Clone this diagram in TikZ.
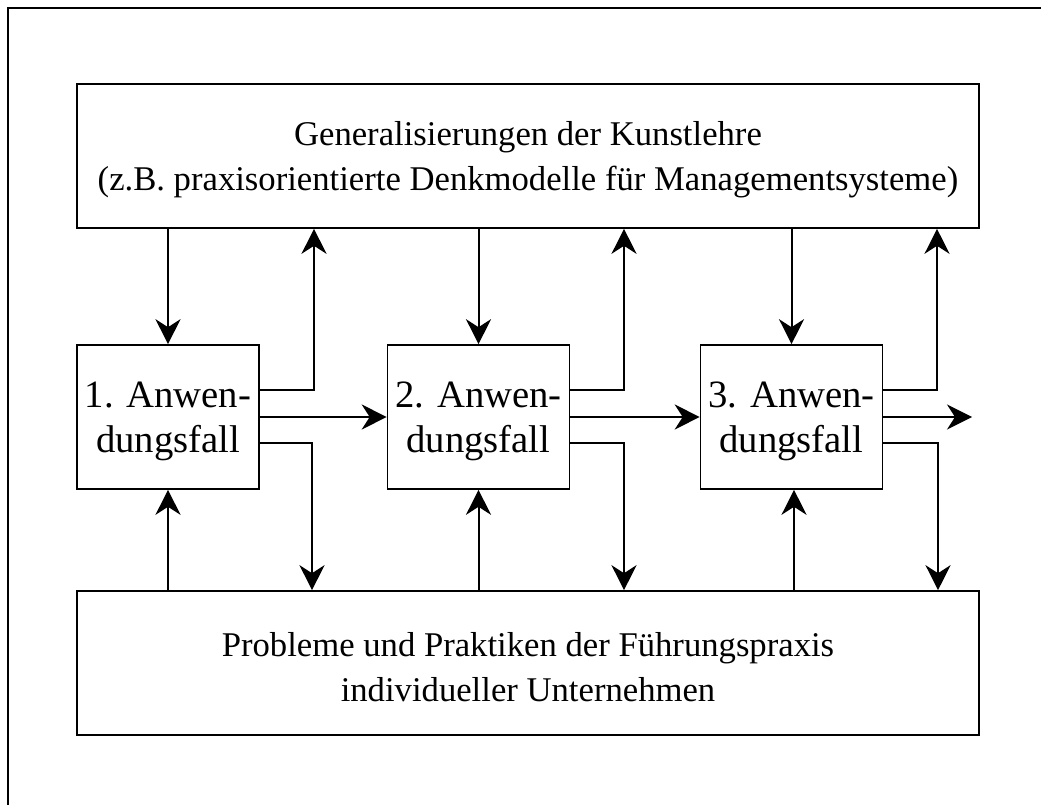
\documentclass[tikz,border=0pt]{standalone}
\usepackage{fontspec}
\setmainfont{Liberation Serif}
\usetikzlibrary{arrows.meta}
\begin{document}
\begin{tikzpicture}[x=0.75pt,y=-0.75pt,
  box/.style={draw,line width=1.2pt,inner sep=0pt},
  bigbox/.style={box,minimum width=676.5pt,minimum height=108pt},
  smallbox/.style={box,minimum width=136.5pt,minimum height=108pt},
  bigtext/.style={align=center,inner sep=0pt,font=\fontsize{26}{33.75}\selectfont},
  smalltext/.style={align=center,inner sep=0pt,font=\fontsize{29}{33.75}\selectfont},
  conn/.style={line width=1.5pt},
  arr/.style={conn,-{Stealth[length=18.75pt,width=18.75pt,inset=6pt]}}]
\useasboundingbox (0,0) rectangle (1041,805);
\draw[line width=1.2pt] (8,830) -- (8,8) -- (1070,8);

\node[bigbox] (top) at (528,156) {};
\node[bigtext] (toptext) at ([yshift=-3pt]top.center) {Generalisierungen der Kunstlehre\\(z.B. praxisorientierte Denkmodelle für Managementsysteme)};
\node[bigbox] (bot) at (528,663) {};
\node[bigtext] (bottext) at ([yshift=-3pt]bot.center) {Probleme und Praktiken der Führungspraxis\\individueller Unternehmen};
\node[smallbox] (b1) at (168,417) {};
\node[smalltext] (b1text) at ([yshift=-3pt]b1.center) {1. Anwen-\\dungsfall};
\node[smallbox] (b2) at (478.5,417) {};
\node[smalltext] (b2text) at ([yshift=-3pt]b2.center) {2. Anwen-\\dungsfall};
\node[smallbox] (b3) at (791.5,417) {};
\node[smalltext] (b3text) at ([yshift=-3pt]b3.center) {3. Anwen-\\dungsfall};
\coordinate (out) at (972,417);

% box 1
\draw[arr] (top.south -| b1) -- (b1.north);
\draw[arr] (bot.north -| b1) -- (b1.south);
\draw[arr] ([yshift=20.25pt]b1.east) -| (top.south -| 314,0);
\draw[arr] ([yshift=-19.5pt]b1.east) -| (bot.north -| 312,0);
\draw[arr] (b1.east) -- (b2.west);
% box 2
\draw[arr] (top.south -| b2) -- (b2.north);
\draw[arr] (bot.north -| b2) -- (b2.south);
\draw[arr] ([yshift=20.25pt]b2.east) -| (top.south -| 624,0);
\draw[arr] ([yshift=-19.5pt]b2.east) -| (bot.north -| 624,0);
\draw[arr] (b2.east) -- (b3.west);
% box 3
\draw[arr] (top.south -| b3) -- (b3.north);
\draw[arr] (bot.north -| 794,0) -- (b3.south -| 794,0);
\draw[arr] ([yshift=20.25pt]b3.east) -| (top.south -| 937,0);
\draw[arr] ([yshift=-19.5pt]b3.east) -| (bot.north -| 938,0);
\draw[arr] (b3.east) -- (out);
\end{tikzpicture}
\end{document}
